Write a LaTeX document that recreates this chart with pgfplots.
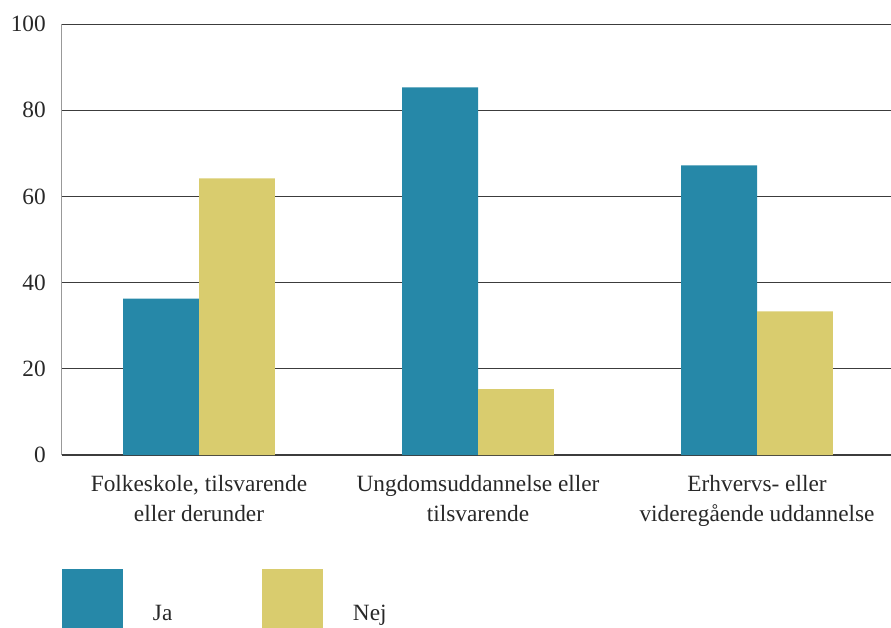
\documentclass[border=0pt]{standalone}
\usepackage{pgfplots}
\pgfplotsset{compat=1.18}
\usepackage{fontspec}
\setmainfont{Liberation Serif}
\definecolor{ja}{RGB}{38,136,168}
\definecolor{nej}{RGB}{217,204,110}
\definecolor{txt}{RGB}{40,40,40}
\definecolor{grd}{RGB}{60,60,60}
\begin{document}
\begin{tikzpicture}
\begin{axis}[
  scale only axis, width=829bp, height=431bp,
  xmin=-0.491, xmax=2.480, ymin=0, ymax=100,
  axis x line*=bottom, axis y line*=left,
  x axis line style={draw=grd, line width=1.4bp, -},
  y axis line style={draw=gray!80, line width=1bp, -},
  ymajorgrids, major grid style={draw=grd, line width=0.8bp},
  major tick length=0pt,
  ytick={0,20,40,60,80,100},
  xtick={0,1,2},
  /pgf/number format/assume math mode=true,
  xticklabels={{Folkeskole, tilsvarende\\eller derunder},{Ungdomsuddannelse eller\\tilsvarende},{Erhvervs- eller\\videregående uddannelse}},
  tick label style={font=\fontsize{23.4}{30}\selectfont, text=txt},
  xticklabel style={align=center, inner sep=0pt, anchor=north, yshift=-20bp},
  yticklabel style={inner sep=0pt, anchor=east, xshift=-16bp},
  ybar, bar width=0.272,
  legend columns=2,
  legend style={at={(0,-0.2645)}, anchor=north west, draw=none, fill=none,
    inner sep=0pt, outer sep=0pt, column sep=0pt, row sep=0pt,
    cells={anchor=base west},
    nodes={inner sep=0pt, outer sep=0pt, text=txt},
    font=\fontsize{23.4}{30}\selectfont},
  legend image code/.code={\fill[#1] (0bp,-10bp) rectangle (61bp,51bp); \path (91bp,0bp);},
]
\addplot[fill=ja, draw=none, bar shift=-0.136] coordinates {(0,36.3) (1,85.3) (2,67.2)};
\addplot[fill=nej, draw=none, bar shift=0.136] coordinates {(0,64.2) (1,15.3) (2,33.3)};
\legend{\makebox[109bp][l]{Ja},Nej}
\end{axis}
\pgfresetboundingbox
\path ([xshift=-62bp,yshift=-173bp]current axis.south west) rectangle ([yshift=24bp]current axis.north east);
\end{tikzpicture}
\end{document}
